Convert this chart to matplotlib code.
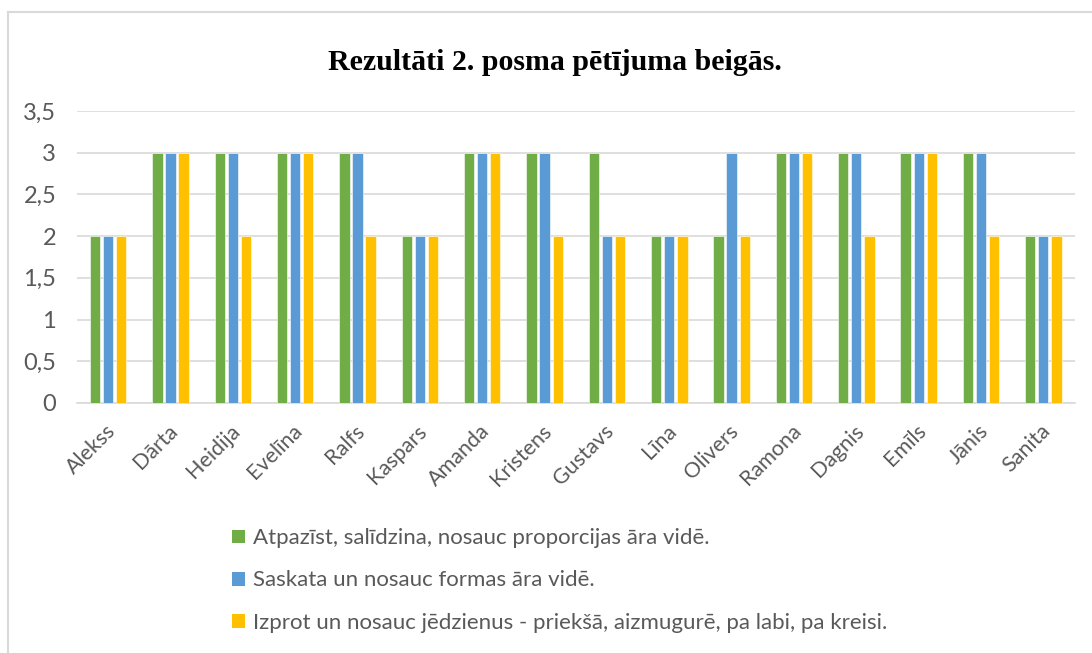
import matplotlib
matplotlib.use('Agg')
from matplotlib import pyplot as plt
from matplotlib.patches import Patch
from matplotlib.ticker import FuncFormatter
from matplotlib.lines import Line2D
from matplotlib.transforms import ScaledTranslation
import numpy as np

# data
names = ['Alekss', 'Dārta', 'Heidija', 'Evelīna', 'Ralfs', 'Kaspars', 'Amanda',
         'Kristens', 'Gustavs', 'Līna', 'Olivers', 'Ramona', 'Dagnis', 'Emīls',
         'Jānis', 'Sanita']
proporcijas = [2, 3, 3, 3, 3, 2, 3, 3, 3, 2, 2, 3, 3, 3, 3, 2]
formas = [2, 3, 3, 3, 3, 2, 3, 3, 2, 2, 3, 3, 3, 3, 3, 2]
jedzieni = [2, 3, 2, 3, 2, 2, 3, 2, 2, 2, 2, 3, 2, 3, 2, 2]

series_labels = ['Atpazīst, salīdzina, nosauc proporcijas āra vidē.',
                 'Saskata un nosauc formas āra vidē.',
                 'Izprot un nosauc jēdzienus - priekšā, aizmugurē, pa labi, pa kreisi.']
colors = ['#70AD47', '#5B9BD5', '#FFC000']

plt.rcParams['font.family'] = ['Lato', 'DejaVu Sans']
text_grey = '#595959'
grid_grey = '#D9D9D9'

fig = plt.figure(figsize=(10.92, 6.53), dpi=100)
ax = fig.add_axes([0.0705, 0.383, 0.9135, 0.447])

x = np.arange(len(names))
width = 0.165
step = 0.21
for i, vals in enumerate([proporcijas, formas, jedzieni]):
    ax.bar(x + (i - 1) * step, vals, width=width, color=colors[i],
           edgecolor='white', linewidth=0.4, zorder=3)

ax.set_xlim(-0.5, len(names) - 0.5)
ax.set_ylim(0, 3.5)
ax.set_yticks(np.arange(0, 3.51, 0.5))
ax.yaxis.set_major_formatter(FuncFormatter(lambda v, p: ('%g' % v).replace('.', ',')))
ax.grid(axis='y', color=grid_grey, linewidth=1.2, zorder=0)
for s in ['top', 'right', 'left']:
    ax.spines[s].set_visible(False)
ax.spines['bottom'].set_color(grid_grey)
ax.spines['bottom'].set_linewidth(1.2)
ax.tick_params(axis='both', length=0, colors=text_grey, labelsize=15.5)
ax.tick_params(axis='y', pad=15, labelsize=17)
ax.set_xticks(x)
ax.set_xticklabels(names, rotation=45, ha='right', va='center', rotation_mode='anchor')
ax.tick_params(axis='x', pad=18)

# nudge the slanted names a little to the right, as in the original
shift = ScaledTranslation(4 / 100, 0, fig.dpi_scale_trans)
for lbl in ax.get_xticklabels():
    lbl.set_transform(lbl.get_transform() + shift)

fig.text(0.508, 0.905, 'Rezultāti 2. posma pētījuma beigās.', ha='center', va='center',
         family='Liberation Serif', fontweight='bold', fontsize=21.5, color='black')

handles = [Patch(facecolor=c, edgecolor='none') for c in colors]
fig.legend(handles, series_labels, loc='upper left', bbox_to_anchor=(0.2125, 0.191),
           frameon=False, fontsize=16, labelcolor=text_grey, handlelength=0.58,
           handleheight=0.58, handletextpad=0.36, labelspacing=1.0,
           borderpad=0, borderaxespad=0)

# outer chart border (only left and top edges fall inside the picture)
fig.add_artist(Line2D([7.5 / 1092, 7.5 / 1092], [0, 1 - 12 / 653], color=grid_grey, lw=1.5))
fig.add_artist(Line2D([7.5 / 1092, 1], [1 - 12 / 653, 1 - 12 / 653], color=grid_grey, lw=1.5))

fig.savefig('out.png', dpi=100, facecolor='white')
